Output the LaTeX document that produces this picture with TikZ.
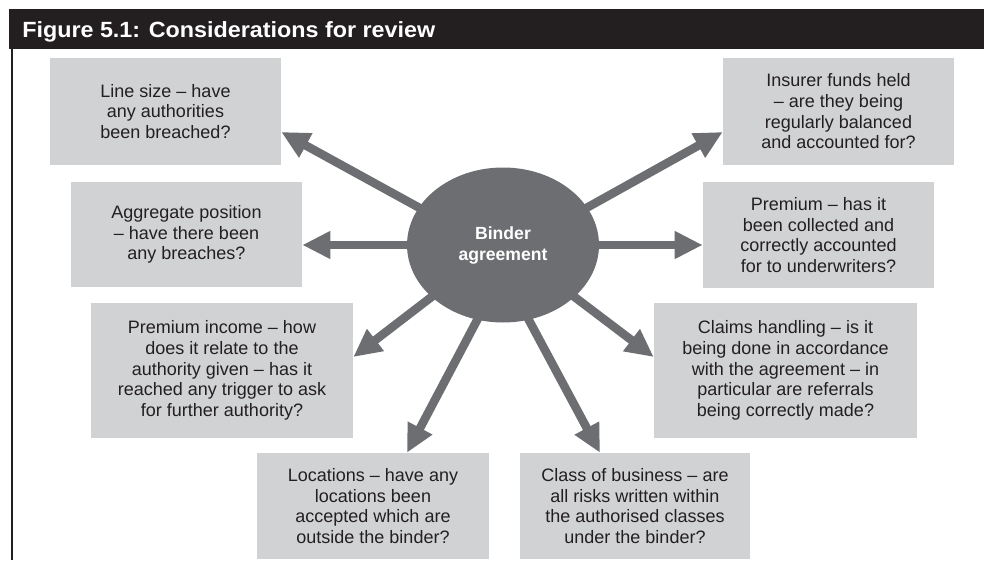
\documentclass[tikz,border=0pt]{standalone}
\usepackage{graphicx}
\usepackage{fontspec}
\setmainfont{Liberation Sans}
\usetikzlibrary{shapes.geometric,arrows.meta,calc,backgrounds}
\definecolor{boxgrey}{HTML}{D1D2D4}
\definecolor{armgrey}{HTML}{6D6E71}
\definecolor{inkblack}{HTML}{231F20}
\begin{document}
\begin{tikzpicture}[x=0.75pt,y=-0.75pt,
  note/.style 2 args={rectangle, fill=boxgrey, inner sep=0pt,
    minimum width=#1*0.75pt, minimum height=#2*0.75pt, align=center,
    text=inkblack, font=\fontsize{13.5pt}{15.5pt}\selectfont},
  spoke/.style={draw=armgrey, line width=6.4pt,
    -{Triangle[length=21pt,width=19.5pt]}}
]
\useasboundingbox (0,0) rectangle (984,560);

% heading bar and left rule
\fill[inkblack] (9,9) rectangle (984,49);
\node[anchor=base west, text=white, inner sep=0pt,
  font=\fontsize{16.5pt}{18pt}\selectfont\bfseries] (title) at (22,37.3)
  {\resizebox{309.75pt}{\height}{Figure 5.1: Considerations for review}};
\draw[inkblack, line width=1.5pt] (12,49) -- (12,560);

% the eight review points
\node[note={231}{107}] (b1) at (165.5,111.5) {Line size – have\\any authorities\\been breached?};
\node[note={231}{107}] (b2) at (838.5,111.5) {Insurer funds held\\– are they being\\regularly balanced\\and accounted for?};
\node[note={231}{105}] (b3) at (186.5,234.5) {Aggregate position\\– have there been\\any breaches?};
\node[note={231}{106}] (b4) at (818.5,235) {Premium – has it\\been collected and\\correctly accounted\\for to underwriters?};
\node[note={262}{135}] (b5) at (222,370.5) {Premium income – how\\does it relate to the\\authority given – has it\\reached any trigger to ask\\for further authority?};
\node[note={263}{135}] (b6) at (785.5,370.5) {Claims handling – is it\\being done in accordance\\with the agreement – in\\particular are referrals\\being correctly made?};
\node[note={232}{106}] (b7) at (373,506) {Locations – have any\\locations been\\accepted which are\\outside the binder?};
\node[note={230}{106}] (b8) at (635,506) {Class of business – are\\all risks written within\\the authorised classes\\under the binder?};

% central hub
\node[ellipse, fill=armgrey, inner sep=0pt, minimum width=144pt,
  minimum height=116.25pt, align=center, text=white,
  font=\fontsize{13.2pt}{15.75pt}\selectfont\bfseries] (hub) at (503,245)
  {Binder\\agreement};

% arrow tips on the box edges
\coordinate (t1) at ($(b1.east)+(0,20.5)$);
\coordinate (t2) at ($(b2.west)+(0,20.5)$);
\coordinate (t3) at ($(b3.east)+(0,10.5)$);
\coordinate (t4) at ($(b4.west)+(0,10)$);
\coordinate (t5) at ($(b5.east)+(0,-13.5)$);
\coordinate (t6) at ($(b6.west)+(0,-13.5)$);
\coordinate (t7) at ($(b7.north)+(34,0)$);
\coordinate (t8) at ($(b8.north)+(-35,0)$);

% spokes, starting under the hub
\begin{scope}[on background layer]
  \draw[spoke] ($(t1)!1.2!(hub.156)$) -- (t1);
  \draw[spoke] ($(t2)!1.2!(hub.24)$) -- (t2);
  \draw[spoke] ($(t3)!1.2!(hub.180)$) -- (t3);
  \draw[spoke] ($(t4)!1.2!(hub.0)$) -- (t4);
  \draw[spoke] ($(t5)!1.2!(hub.216)$) -- (t5);
  \draw[spoke] ($(t6)!1.2!(hub.324)$) -- (t6);
  \draw[spoke] ($(t7)!1.2!(hub.251)$) -- (t7);
  \draw[spoke] ($(t8)!1.2!(hub.289)$) -- (t8);
\end{scope}
\end{tikzpicture}
\end{document}
